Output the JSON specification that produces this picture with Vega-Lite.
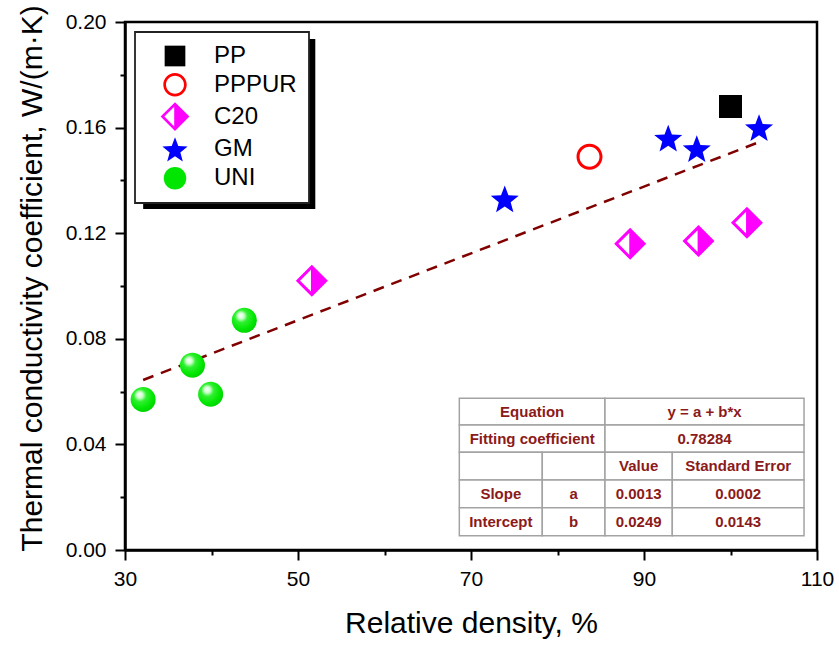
{
  "$schema": "https://vega.github.io/schema/vega-lite/v6.json",
  "width": 692,
  "height": 528,
  "autosize": "none",
  "padding": {"left": 125, "top": 22, "right": 22, "bottom": 95},
  "background": "white",
  "config": {
    "view": {"stroke": "black", "strokeWidth": 2.5},
    "font": "Liberation Sans",
    "axis": {
      "grid": false,
      "domainColor": "black",
      "domainWidth": 2.5,
      "tickColor": "black",
      "tickWidth": 2,
      "labelFont": "Liberation Sans",
      "labelFontSize": 21,
      "labelColor": "black",
      "labelFlush": false,
      "labelOverlap": false,
      "titleFont": "Liberation Sans",
      "titleFontSize": 30,
      "titleFontWeight": "normal",
      "titleColor": "black"
    }
  },
  "datasets": {
    "points": [
      {"series": "PP", "density": 100.0, "k": 0.168},
      {"series": "PPPUR", "density": 83.7, "k": 0.149},
      {"series": "C20", "density": 51.6, "k": 0.102},
      {"series": "C20", "density": 88.4, "k": 0.116},
      {"series": "C20", "density": 96.3, "k": 0.117},
      {"series": "C20", "density": 101.9, "k": 0.124},
      {"series": "GM", "density": 73.9, "k": 0.133},
      {"series": "GM", "density": 92.8, "k": 0.156},
      {"series": "GM", "density": 96.1, "k": 0.152},
      {"series": "GM", "density": 103.3, "k": 0.160},
      {"series": "UNI", "density": 32.1, "k": 0.057},
      {"series": "UNI", "density": 37.8, "k": 0.070},
      {"series": "UNI", "density": 39.9, "k": 0.059},
      {"series": "UNI", "density": 43.8, "k": 0.087}
    ],
    "fit": [
      {"density": 32.1, "k": 0.0644},
      {"density": 103.3, "k": 0.1545}
    ],
    "table": [
      {"t": "Equation", "x1": 68.65, "x2": 85.49, "y1": 0.05746, "y2": 0.04735, "xc": 77.07, "yc": 0.05241},
      {"t": "y = a + b*x", "x1": 85.49, "x2": 108.5, "y1": 0.05746, "y2": 0.04735, "xc": 97.0, "yc": 0.05241},
      {"t": "Fitting coefficient", "x1": 68.65, "x2": 85.49, "y1": 0.04735, "y2": 0.03701, "xc": 77.07, "yc": 0.04218},
      {"t": "0.78284", "x1": 85.49, "x2": 108.5, "y1": 0.04735, "y2": 0.03701, "xc": 97.0, "yc": 0.04218},
      {"t": "", "x1": 68.65, "x2": 78.24, "y1": 0.03701, "y2": 0.02652, "xc": 73.45, "yc": 0.03177},
      {"t": "", "x1": 78.24, "x2": 85.49, "y1": 0.03701, "y2": 0.02652, "xc": 81.87, "yc": 0.03177},
      {"t": "Value", "x1": 85.49, "x2": 93.27, "y1": 0.03701, "y2": 0.02652, "xc": 89.38, "yc": 0.03177},
      {"t": "Standard Error", "x1": 93.27, "x2": 108.5, "y1": 0.03701, "y2": 0.02652, "xc": 100.89, "yc": 0.03177},
      {"t": "Slope", "x1": 68.65, "x2": 78.24, "y1": 0.02652, "y2": 0.01602, "xc": 73.45, "yc": 0.02127},
      {"t": "a", "x1": 78.24, "x2": 85.49, "y1": 0.02652, "y2": 0.01602, "xc": 81.87, "yc": 0.02127},
      {"t": "0.0013", "x1": 85.49, "x2": 93.27, "y1": 0.02652, "y2": 0.01602, "xc": 89.38, "yc": 0.02127},
      {"t": "0.0002", "x1": 93.27, "x2": 108.5, "y1": 0.02652, "y2": 0.01602, "xc": 100.89, "yc": 0.02127},
      {"t": "Intercept", "x1": 68.65, "x2": 78.24, "y1": 0.01602, "y2": 0.00542, "xc": 73.45, "yc": 0.01072},
      {"t": "b", "x1": 78.24, "x2": 85.49, "y1": 0.01602, "y2": 0.00542, "xc": 81.87, "yc": 0.01072},
      {"t": "0.0249", "x1": 85.49, "x2": 93.27, "y1": 0.01602, "y2": 0.00542, "xc": 89.38, "yc": 0.01072},
      {"t": "0.0143", "x1": 93.27, "x2": 108.5, "y1": 0.01602, "y2": 0.00542, "xc": 100.89, "yc": 0.01072}
    ]
  },
  "layer": [
    {
      "data": {"values": [{}]},
      "mark": {"type": "rect", "color": "black"},
      "encoding": {
        "x": {"datum": 32.1, "type": "quantitative", "scale": {"domain": [30, 110], "nice": false}, "title": "Relative density, %"},
        "x2": {"datum": 52.0},
        "y": {"datum": 0.1936, "type": "quantitative", "scale": {"domain": [0, 0.2], "nice": false}, "title": "Thermal conductivity coefficient, W/(m·K)"},
        "y2": {"datum": 0.1292}
      }
    },
    {
      "data": {"name": "table"},
      "mark": {"type": "rect", "fill": "white", "stroke": "#a3a3a3", "strokeWidth": 1.5},
      "encoding": {
        "x": {"field": "x1", "type": "quantitative", "scale": {"domain": [30, 110], "nice": false}, "title": "Relative density, %"},
        "x2": {"field": "x2"},
        "y": {"field": "y1", "type": "quantitative", "scale": {"domain": [0, 0.2], "nice": false}, "title": "Thermal conductivity coefficient, W/(m·K)"},
        "y2": {"field": "y2"}
      }
    },
    {
      "data": {"name": "table"},
      "mark": {"type": "text", "font": "Liberation Sans", "fontSize": 15, "fontWeight": "bold", "color": "#8B1A1A", "align": "center", "baseline": "middle"},
      "encoding": {
        "x": {"field": "xc", "type": "quantitative", "scale": {"domain": [30, 110], "nice": false}, "title": "Relative density, %"},
        "y": {"field": "yc", "type": "quantitative", "scale": {"domain": [0, 0.2], "nice": false}, "title": "Thermal conductivity coefficient, W/(m·K)"},
        "text": {"field": "t"}
      }
    },
    {
      "data": {"name": "fit"},
      "mark": {"type": "line", "color": "#800000", "strokeWidth": 2.5, "strokeDash": [11, 8]},
      "encoding": {
        "x": {"field": "density", "type": "quantitative", "scale": {"domain": [30, 110], "nice": false}, "title": "Relative density, %"},
        "y": {"field": "k", "type": "quantitative", "scale": {"domain": [0, 0.2], "nice": false}, "title": "Thermal conductivity coefficient, W/(m·K)"}
      }
    },
    {
      "data": {"name": "points"},
      "mark": {"type": "point", "filled": true, "opacity": 1, "size": 625, "strokeWidth": 0},
      "encoding": {
        "x": {
          "field": "density", "type": "quantitative",
          "scale": {"domain": [30, 110], "nice": false},
          "title": "Relative density, %",
          "axis": {
            "values": [30, 40, 50, 60, 70, 80, 90, 100, 110],
            "labelExpr": "datum.value % 20 === 0 ? '' : datum.label",
            "tickSize": {"condition": {"test": "datum.value % 20 === 0", "value": 5}, "value": 10},
            "labelPadding": 8,
            "titleBaseline": "alphabetic",
            "titleX": 346,
            "titleY": 82
          }
        },
        "y": {
          "field": "k", "type": "quantitative",
          "scale": {"domain": [0, 0.2], "nice": false},
          "title": "Thermal conductivity coefficient, W/(m·K)",
          "axis": {
            "values": [0, 0.02, 0.04, 0.06, 0.08, 0.1, 0.12, 0.14, 0.16, 0.18, 0.2],
            "labelExpr": "round(datum.value * 100) % 4 === 2 ? '' : format(datum.value, '.2f')",
            "tickSize": {"condition": {"test": "round(datum.value * 100) % 4 === 2", "value": 5}, "value": 10},
            "labelPadding": 9,
            "titleBaseline": "alphabetic",
            "titleX": -84,
            "titleY": 256
          }
        },
        "fill": {
          "condition": {
            "test": "datum.series === 'UNI'",
            "value": {"gradient": "radial", "x1": 0.35, "y1": 0.3, "r1": 0, "x2": 0.42, "y2": 0.4, "r2": 0.66,
              "stops": [{"offset": 0, "color": "#ffffff"}, {"offset": 0.18, "color": "#d0ffd0"}, {"offset": 0.38, "color": "#30f030"}, {"offset": 0.75, "color": "#00e600"}, {"offset": 1, "color": "#00cc00"}]}
          },
          "field": "series", "type": "nominal",
          "scale": {"domain": ["PP", "PPPUR", "C20", "GM", "UNI"], "range": ["#000000", "#ff0000", "#ff00ff", "#0000ff", "#00e600"]},
          "legend": {
            "orient": "none", "legendX": 10, "legendY": 10, "title": null,
            "strokeColor": "#222222", "fillColor": "white",
            "padding": 12, "rowPadding": 4.8,
            "symbolSize": 506, "symbolOffset": 16, "symbolStrokeWidth": 0, "symbolOpacity": 1,
            "labelOffset": 27, "labelFont": "Liberation Sans", "labelFontSize": 24, "labelColor": "black",
            "encode": {
              "legend": {"update": {"strokeWidth": {"value": 1.8}}},
              "symbols": {"update": {"fill": [
                {"test": "datum.value === 'UNI'", "value": {"gradient": "radial", "x1": 0.35, "y1": 0.3, "r1": 0, "x2": 0.42, "y2": 0.4, "r2": 0.66,
                  "stops": [{"offset": 0, "color": "#ffffff"}, {"offset": 0.18, "color": "#d0ffd0"}, {"offset": 0.38, "color": "#30f030"}, {"offset": 0.75, "color": "#00e600"}, {"offset": 1, "color": "#00cc00"}]}},
                {"scale": "fill", "field": "value"}
              ]}}
            }
          }
        },
        "shape": {
          "field": "series", "type": "nominal",
          "scale": {"domain": ["PP", "PPPUR", "C20", "GM", "UNI"], "range": [
            "M-0.92,-0.92L0.92,-0.92L0.92,0.92L-0.92,0.92Z",
            "M1.04,0A1.04,1.04,0,1,1,-1.04,0A1.04,1.04,0,1,1,1.04,0Z M0.8,0A0.8,0.8,0,1,0,-0.8,0A0.8,0.8,0,1,0,0.8,0Z",
            "M0,-1.28L1.28,0L0,1.28L-1.28,0Z M-0.07,-0.87L-0.94,0L-0.07,0.87Z",
            "M0,-1.07L0.294,-0.295L1.122,-0.255L0.476,0.265L0.694,1.065L0,0.61L-0.694,1.065L-0.476,0.265L-1.122,-0.255L-0.294,-0.295Z",
            "circle"
          ]}
        }
      }
    }
  ]
}
